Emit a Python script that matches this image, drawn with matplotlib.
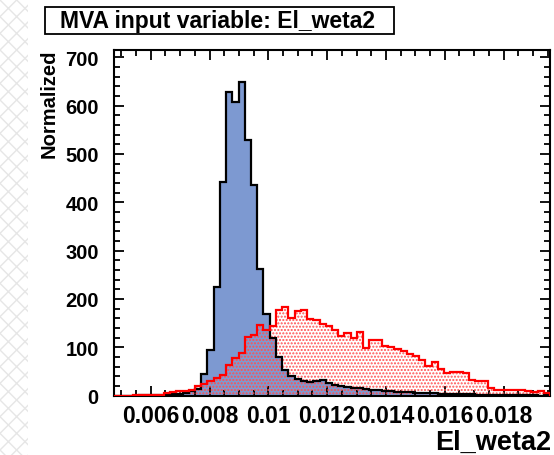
import numpy as np
import matplotlib
matplotlib.use("Agg")
import matplotlib.pyplot as plt
from matplotlib.patches import Rectangle

plt.rcParams['font.family'] = ['Liberation Sans', 'DejaVu Sans']
plt.rcParams['font.weight'] = 'bold'
plt.rcParams['hatch.linewidth'] = 1.0

# histogram range and binning of El_weta2
x_min = 0.00475
x_max = 0.01958
n_bins = 70

signal = [0, 0, 0, 0, 1, 1, 1, 2, 2, 3,
          4, 6, 9, 14, 45, 95, 224, 442, 629, 607,
          649, 528, 436, 262, 168, 120, 79, 52, 40, 34,
          30, 28, 30, 32, 26, 22, 20, 18, 16, 15,
          13, 12, 11, 10, 9, 8, 8, 7, 6, 6,
          5, 5, 4, 4, 4, 3, 3, 3, 2, 2,
          2, 2, 1, 1, 1, 1, 1, 1, 0, 1]

background = [0, 0, 0, 1, 2, 2, 2, 2, 5, 8,
              9, 10, 12, 19, 24, 31, 37, 43, 64, 78,
              89, 121, 126, 147, 136, 143, 178, 183, 161, 174,
              178, 159, 156, 149, 145, 136, 123, 130, 119, 132,
              99, 116, 116, 102, 101, 97, 93, 86, 82, 73,
              61, 69, 56, 47, 48, 48, 46, 32, 31, 30,
              16, 12, 12, 11, 11, 12, 9, 7, 9, 6]

xticks = [0.006, 0.008, 0.01, 0.012, 0.014, 0.016, 0.018]
xtick_labels = ['0.006', '0.008', '0.01', '0.012', '0.014', '0.016', '0.018']
yticks = [0, 100, 200, 300, 400, 500, 600, 700]

edges = np.linspace(x_min, x_max, n_bins + 1)

fig = plt.figure(figsize=(5.54, 4.56), dpi=100)

# page background on the left side
fig.patches.append(Rectangle((0, 0), 28 / 554, 1, transform=fig.transFigure,
                             facecolor='white', edgecolor='#e6e6e6',
                             hatch='xx', linewidth=0, zorder=0))

ax = fig.add_axes([114 / 554, 1 - 396.6 / 456, 436 / 554, 345.6 / 456])

sig_col = '#7d99d1'
ax.stairs(signal, edges, fill=True, facecolor=sig_col, edgecolor='none', zorder=1)
ax.stairs(background, edges, fill=True, facecolor='none', edgecolor='#ff5050',
          hatch='.....', linewidth=0, zorder=2)
ax.stairs(signal, edges, baseline=0, color='black', linewidth=1.6, zorder=3)
ax.stairs(background, edges, baseline=0, color='red', linewidth=1.6, zorder=4)

ax.set_xlim(x_min, x_max)
ax.set_ylim(0, 715)
ax.set_xticks(xticks)
ax.set_xticklabels(xtick_labels)
ax.set_xticks(np.arange(0.005, 0.0196, 0.0005), minor=True)
ax.set_yticks(yticks)
ax.set_yticks(np.arange(0, 715, 20), minor=True)

ax.tick_params(which='both', direction='in', top=True, right=True, width=1.3)
ax.tick_params(which='major', length=7.5)
ax.tick_params(which='minor', length=4)
ax.tick_params(axis='x', labelsize=16.5, pad=6)
ax.tick_params(axis='y', labelsize=14.5, pad=11)
for sp in ax.spines.values():
    sp.set_linewidth(1.5)

fig.text(49 / 554, 1 - 50 / 456, 'Normalized', rotation=90, ha='center', va='top',
         fontsize=14.5, fontweight='bold')
fig.text(551 / 554, 1 - 443 / 456, 'El_weta2', ha='right', va='center',
         fontsize=19.5, fontweight='bold')

# title box
fig.patches.append(Rectangle((45 / 554, 1 - 34.5 / 456), 349 / 554, 26.5 / 456,
                             transform=fig.transFigure, facecolor='white',
                             edgecolor='black', linewidth=1.3, zorder=2))
fig.text(218 / 554, 1 - 21.5 / 456, 'MVA input variable: El_weta2', ha='center',
         va='center', fontsize=16.5, fontweight='bold', zorder=3)

fig.savefig('out.png', dpi=100)
